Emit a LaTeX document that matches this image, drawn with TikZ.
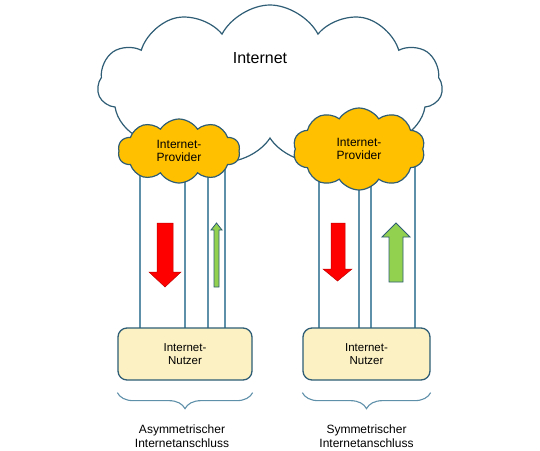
\documentclass[tikz,border=0pt]{standalone}
\usepackage{fontspec}
\setmainfont{Liberation Sans}
\usetikzlibrary{positioning, shapes.symbols, decorations.pathreplacing, backgrounds}

\definecolor{randblau}{HTML}{2E5D75}
\definecolor{leitblau}{HTML}{5F90A9}
\definecolor{wolkegelb}{HTML}{FFC000}
\definecolor{nutzergelb}{HTML}{FCF1C3}
\definecolor{pfeilgruen}{HTML}{92D050}

\tikzset{
  wolke/.style={cloud, cloud puffs=#1, cloud puff arc=115, cloud ignores aspect,
    draw=randblau, line width=1.2pt, inner sep=0pt},
  provider/.style={wolke=10, fill=wolkegelb, align=center,
    font=\fontsize{12}{13.5}\selectfont},
  nutzer/.style={rectangle, rounded corners=9pt, draw=randblau, line width=1.3pt,
    fill=nutzergelb, align=center, font=\fontsize{11.5}{13.5}\selectfont},
  leitung/.style={draw=leitblau, line width=1.8pt},
  klammer/.style={draw=leitblau, line width=1.1pt, decorate,
    decoration={brace, mirror, amplitude=16pt}},
  beschrift/.style={align=center, font=\fontsize{12}{14}\selectfont},
  pfeilrot/.style={fill=red, draw=red!75!black, line width=0.5pt},
  pfeilgr/.style={fill=pfeilgruen, draw=randblau, line width=0.8pt}
}

\begin{document}
\begin{tikzpicture}[x=1pt, y=-1pt]
  \useasboundingbox (0,0) rectangle (540,450);

  % Internet-Wolke
  \begin{scope}[on background layer]
    \node[wolke=11, cloud puff arc=125, fill=white, minimum width=345pt, minimum height=160pt] (internet) at (270,85) {};
  \end{scope}
  \node[font=\fontsize{16}{19}\selectfont] (inettext) at (260,58) {Internet};

  % Provider und Nutzer
  \node[provider, minimum width=122pt, minimum height=64pt] (providerL) at (179,151) {Internet-\\Provider};
  \node[provider, minimum width=132pt, minimum height=82pt] (providerR) at (359,149) {Internet-\\Provider};
  \node[nutzer, minimum width=134pt, minimum height=52pt] (nutzerL) at (185,354) {Internet-\\Nutzer};
  \node[nutzer, minimum width=127pt, minimum height=52pt] (nutzerR) at (366.5,354) {Internet-\\Nutzer};

  % Leitungen
  \begin{scope}[on background layer]
    \foreach \x in {140,185,208,225}
      \draw[leitung] (providerL.center -| \x,0) -- (nutzerL.center -| \x,0);
    \foreach \x in {319,359,371,415}
      \draw[leitung] (providerR.center -| \x,0) -- (nutzerR.center -| \x,0);
  \end{scope}

  % Pfeile
  \draw[pfeilrot] (157,223) -- (173,223) -- (173,272) -- (181,272) -- (165,287) -- (149,272) -- (157,272) -- cycle;
  \draw[pfeilgr] (214,287) -- (219,287) -- (219,230) -- (222,230) -- (216.5,223) -- (211,230) -- (214,230) -- cycle;
  \draw[pfeilrot] (331,223) -- (345,223) -- (345,269) -- (352,269) -- (337.5,281) -- (323,269) -- (331,269) -- cycle;
  \draw[pfeilgr] (389,282) -- (403,282) -- (403,237) -- (410,237) -- (396,223) -- (382,237) -- (389,237) -- cycle;

  % Klammern
  \draw[klammer] ([yshift=-12pt]nutzerL.south west) -- ([yshift=-12pt]nutzerL.south east);
  \draw[klammer] ([yshift=-12pt]nutzerR.south west) -- ([yshift=-12pt]nutzerR.south east);
  \node[beschrift] (asym) at (182,436) {Asymmetrischer\\Internetanschluss};
  \node[beschrift] (sym) at (366.5,436) {Symmetrischer\\Internetanschluss};
\end{tikzpicture}
\end{document}
